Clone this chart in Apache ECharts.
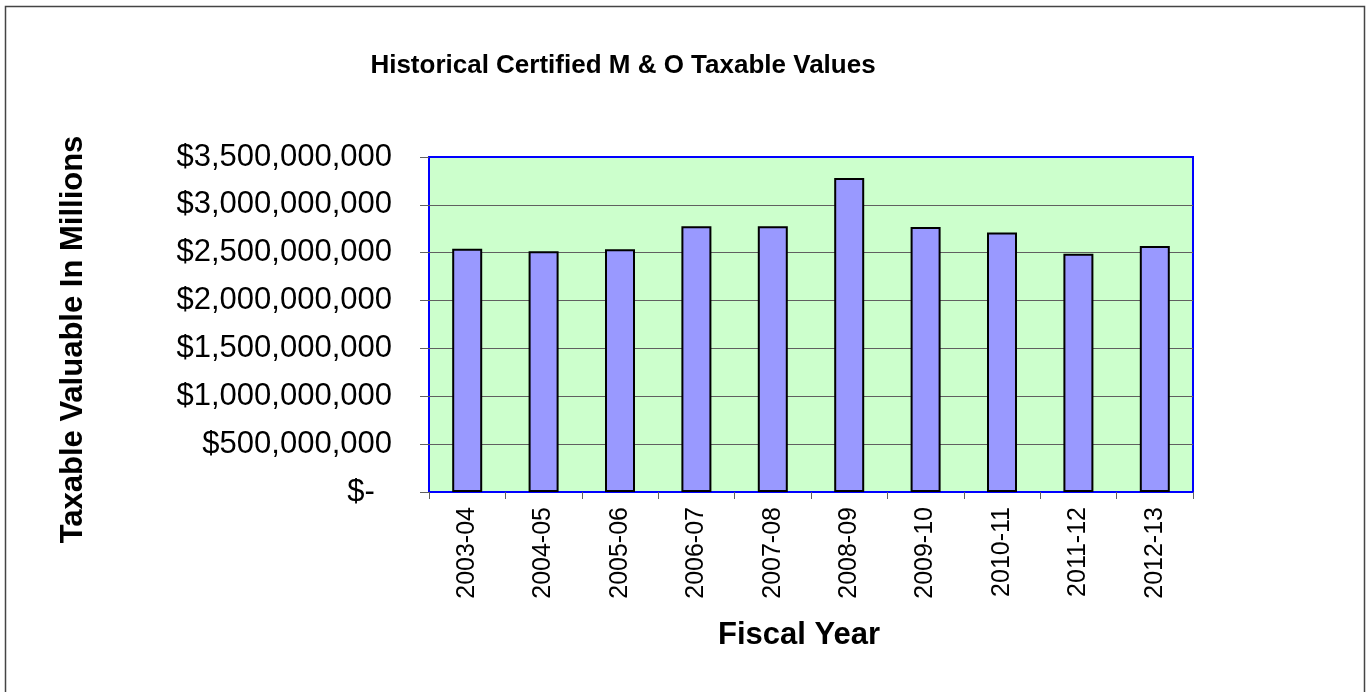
<!DOCTYPE html>
<html>
<head>
<meta charset="utf-8">
<title>Historical Certified M & O Taxable Values</title>
<script src="https://cdn.jsdelivr.net/npm/echarts@6/dist/echarts.min.js"></script>
<style>
  html, body { margin: 0; padding: 0; background: #fff; }
  #chart { width: 1366px; height: 692px; }
</style>
</head>
<body>
<div id="chart"></div>
<script>
// fiscal years on the x axis
const categories = ['2003-04', '2004-05', '2005-06', '2006-07', '2007-08',
  '2008-09', '2009-10', '2010-11', '2011-12', '2012-13']

// certified M & O taxable values
const taxableValues = [2542000000, 2515000000, 2536000000, 2777000000, 2777000000,
  3280000000, 2769000000, 2710000000, 2490000000, 2570000000]

// y axis range
const yMin = 0
const yMax = 3500000000
const yStep = 500000000

const font = '"Liberation Sans", Arial, sans-serif'

// excel accounting style: zero shows as "$-" with trailing space
function formatMoney(v) {
  if (v === 0) return '$-  '
  return '$' + v.toLocaleString('en-US')
}

const chart = echarts.init(document.getElementById('chart'))

const option = {
  animation: false,
  backgroundColor: '#ffffff',
  textStyle: { fontFamily: font },
  graphic: [{
    type: 'rect',
    shape: { x: 5.5, y: 6.5, width: 1359, height: 700 },
    style: { fill: 'none', stroke: '#444', lineWidth: 1.5 },
    silent: true
  }],
  title: {
    text: 'Historical Certified M & O Taxable Values',
    left: 618,
    top: 48,
    textAlign: 'center',
    textStyle: {
      fontFamily: font,
      fontSize: 26,
      fontWeight: 'bold',
      color: '#000'
    }
  },
  grid: {
    left: 429,
    right: 173,
    top: 157,
    bottom: 200,
    show: true,
    backgroundColor: '#ccffcc',
    borderColor: '#0000ff',
    borderWidth: 2
  },
  xAxis: {
    type: 'category',
    data: categories,
    name: 'Fiscal Year',
    nameLocation: 'middle',
    nameGap: 128,
    nameTextStyle: {
      fontFamily: font,
      fontSize: 31,
      fontWeight: 'bold',
      color: '#000',
      padding: [0, 24, 0, 0]
    },
    axisLine: { show: false },
    axisTick: {
      show: true,
      length: 7,
      lineStyle: { color: '#606060', width: 1 }
    },
    axisLabel: {
      rotate: 90,
      margin: 15,
      fontFamily: font,
      fontSize: 25,
      color: '#000'
    }
  },
  yAxis: {
    type: 'value',
    min: yMin,
    max: yMax,
    interval: yStep,
    name: 'Taxable Valuable In Millions',
    nameLocation: 'middle',
    nameGap: 340,
    nameTextStyle: {
      fontFamily: font,
      fontSize: 31,
      fontWeight: 'bold',
      color: '#000',
      padding: [0, 30, 0, 0]
    },
    axisLine: { show: false },
    axisTick: {
      show: true,
      length: 9,
      lineStyle: { color: '#606060', width: 1 }
    },
    axisLabel: {
      margin: 37,
      fontFamily: font,
      fontSize: 31,
      color: '#000',
      formatter: formatMoney
    },
    splitLine: {
      show: true,
      showMinLine: false,
      showMaxLine: false,
      lineStyle: { color: '#606060', width: 1 }
    }
  },
  series: [{
    type: 'bar',
    data: taxableValues,
    barWidth: 30,
    itemStyle: {
      color: '#9999ff',
      borderColor: '#000',
      borderWidth: 2
    }
  }]
}

chart.setOption(option)
</script>
</body>
</html>
